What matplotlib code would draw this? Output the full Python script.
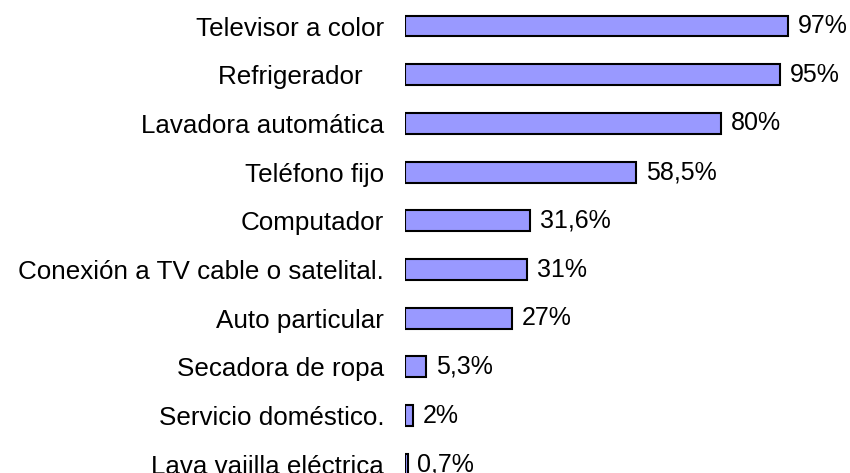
import matplotlib
matplotlib.use("Agg")
import matplotlib.pyplot as plt

# Tenencia de bienes en el hogar (%)
items = ["Televisor a color", "Refrigerador   ", "Lavadora automática",
         "Teléfono fijo", "Computador", "Conexión a TV cable o satelital.",
         "Auto particular", "Secadora de ropa", "Servicio doméstico.",
         "Lava vajilla eléctrica"]
values = [97, 95, 80, 58.5, 31.6, 31, 27, 5.3, 2, 0.7]
value_labels = ["97%", "95%", "80%", "58,5%", "31,6%", "31%", "27%",
                "5,3%", "2%", "0,7%"]

plt.rcParams["font.family"] = ["Liberation Sans", "DejaVu Sans"]

fig = plt.figure(figsize=(8.5, 4.73), dpi=100)
ax = fig.add_axes([405/850, 0, 445/850, 1])

pos = list(range(len(items)))
bars = ax.barh(pos, values, height=0.43, color="#9999FF",
               edgecolor="black", linewidth=1.5)

for b, lab in zip(bars, value_labels):
    ax.annotate(lab, (b.get_width(), b.get_y() + b.get_height()/2),
                xytext=(7, 0), textcoords="offset points",
                ha="left", va="center", fontsize=18)

ax.set_xlim(0, 445/3.95)
ax.set_ylim((473 - 26)/48.7, -26/48.7)
ax.set_yticks(pos)
ax.set_yticklabels(items, fontsize=18.7)
ax.tick_params(axis="y", length=0, pad=15)
ax.set_xticks([])
for s in ax.spines.values():
    s.set_visible(False)

fig.savefig("out.png", dpi=100)
